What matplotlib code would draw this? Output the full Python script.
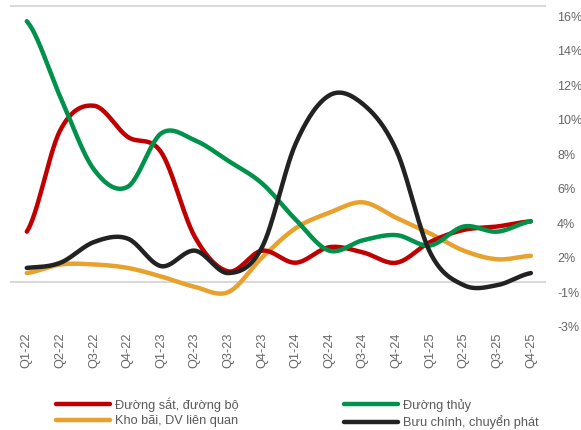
import numpy as np
import matplotlib.pyplot as plt
from matplotlib.lines import Line2D

plt.rcParams['font.family'] = ['Liberation Sans', 'DejaVu Sans']

# Dữ liệu
quarters = ['Q1-22', 'Q2-22', 'Q3-22', 'Q4-22', 'Q1-23', 'Q2-23', 'Q3-23', 'Q4-23',
            'Q1-24', 'Q2-24', 'Q3-24', 'Q4-24', 'Q1-25', 'Q2-25', 'Q3-25', 'Q4-25']
duong_sat_bo = [3.5, 9.4, 10.8, 9.0, 8.1, 3.2, 1.2, 2.4, 1.7, 2.6, 2.3, 1.7, 2.9, 3.6, 3.8, 4.1]
duong_thuy = [15.7, 11.3, 7.1, 6.1, 9.2, 8.8, 7.6, 6.3, 4.2, 2.4, 3.0, 3.3, 2.7, 3.8, 3.5, 4.1]
kho_bai = [1.1, 1.6, 1.6, 1.4, 0.9, 0.3, 0.0, 2.0, 3.7, 4.6, 5.2, 4.3, 3.4, 2.4, 1.9, 2.1]
buu_chinh = [1.4, 1.7, 2.9, 3.1, 1.5, 2.4, 1.1, 2.6, 8.6, 11.4, 10.9, 8.2, 2.3, 0.4, 0.4, 1.1]

tick_vals = [16, 14, 12, 10, 8, 6, 4, 2, 0, -2]
tick_labels = ['16%', '14%', '12%', '10%', '8%', '6%', '4%', '2%', '-1%', '-3%']

series = [
    ('Đường sắt, đường bộ', duong_sat_bo, '#C00000'),
    ('Kho bãi, DV liên quan', kho_bai, '#E8A12C'),
    ('Đường thủy', duong_thuy, '#00914A'),
    ('Bưu chính, chuyển phát', buu_chinh, '#222222'),
]


def smooth(y, n=30):
    # đường cong mượt kiểu Excel (Catmull-Rom)
    y = np.asarray(y, float)
    x = np.arange(len(y), dtype=float)
    xs, ys = [], []
    for i in range(len(y) - 1):
        p0 = y[max(i - 1, 0)]
        p1, p2 = y[i], y[i + 1]
        p3 = y[min(i + 2, len(y) - 1)]
        c1 = p1 + (p2 - p0) / 6
        c2 = p2 - (p3 - p1) / 6
        t = np.linspace(0, 1, n)
        b = (1 - t) ** 3 * p1 + 3 * (1 - t) ** 2 * t * c1 + 3 * (1 - t) * t ** 2 * c2 + t ** 3 * p2
        xs.append(x[i] + t)
        ys.append(b)
    return np.concatenate(xs), np.concatenate(ys)


fig = plt.figure(figsize=(5.81, 4.30), dpi=100)
ax = fig.add_axes([10 / 581, 95 / 430, 536 / 581, 335 / 430])

ax.axhline(16.58, color='#D9D9D9', lw=1.5, zorder=1)
ax.axhline(0.58, color='#D9D9D9', lw=1.5, zorder=1)

# vẽ theo thứ tự để đường đen nằm trên cùng
for name, vals, col in [series[1], series[0], series[2], series[3]]:
    xs, ys = smooth(vals)
    ax.plot(xs, ys, color=col, lw=3.2, solid_capstyle='round', zorder=3)

ax.set_xlim(-0.5, 15.45)
ax.set_ylim(-2.49, 16.93)
ax.set_xticks(range(len(quarters)))
ax.set_xticklabels(quarters, rotation=90, fontsize=9.2, color='#666666')
ax.tick_params(axis='x', length=0, pad=-2)
ax.yaxis.tick_right()
ax.set_yticks(tick_vals)
ax.set_yticklabels(tick_labels, fontsize=9, color='#666666')
ax.tick_params(axis='y', length=0, pad=8)
for s in ax.spines.values():
    s.set_visible(False)

handles = [Line2D([], [], color=c, lw=3.2, solid_capstyle='round') for _, _, c in series]
labels = [n for n, _, _ in series]
fig.legend(handles, labels, loc='upper left', bbox_to_anchor=(56 / 581, 1 - 397 / 430),
           ncol=2, frameon=False, fontsize=9.2, handlelength=4.2, handletextpad=0.4,
           columnspacing=8.3, labelspacing=0.3, labelcolor='#595959',
           borderpad=0, borderaxespad=0)

fig.savefig('out.png', dpi=100)
